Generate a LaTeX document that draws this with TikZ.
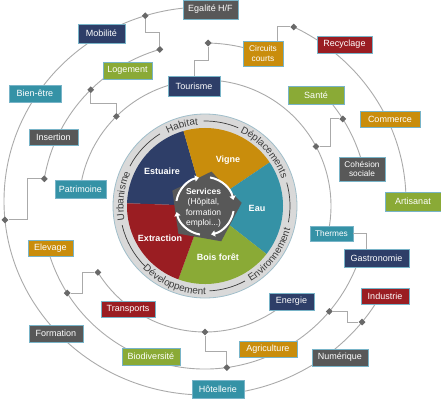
\documentclass[tikz,border=0pt]{standalone}
\usepackage{fontspec}
\setmainfont{Liberation Sans}
\usetikzlibrary{shapes.geometric,decorations.text,arrows.meta}

\definecolor{cnavy}{RGB}{46,62,104}
\definecolor{cgreen}{RGB}{138,170,54}
\definecolor{cteal}{RGB}{53,146,166}
\definecolor{cgrey}{RGB}{88,88,88}
\definecolor{corange}{RGB}{201,141,12}
\definecolor{cred}{RGB}{154,29,34}
\definecolor{cline}{RGB}{170,170,170}
\definecolor{cknot}{RGB}{105,105,105}
\definecolor{cedge}{RGB}{120,180,200}
\definecolor{cring}{RGB}{217,217,217}
\definecolor{cringedge}{RGB}{160,190,202}
\definecolor{ctxt}{RGB}{60,60,60}

\tikzset{
	box/.style={draw=cedge, line width=0.7pt, text=white, inner sep=1pt, minimum width=#1, minimum height=17pt, font=\fontsize{9}{10.5}\selectfont, align=center},
	bnavy/.style={box=#1, fill=cnavy},
	bgreen/.style={box=#1, fill=cgreen},
	bteal/.style={box=#1, fill=cteal},
	bgrey/.style={box=#1, fill=cgrey},
	borange/.style={box=#1, fill=corange},
	bred/.style={box=#1, fill=cred},
	small/.style={font=\fontsize{8.3}{9.5}\selectfont},
	knot/.style={diamond, fill=cknot, minimum width=7pt, minimum height=7pt, inner sep=0pt},
	orbit/.style={cline, line width=0.9pt},
	link/.style={cline, line width=0.9pt},
	slab/.style={text=white, font=\bfseries\fontsize{9}{10}\selectfont},
	rdash/.style={ctxt, line width=0.7pt},
	rtext/.style={decorate, decoration={text along path, text={|\fontsize{10}{10}\selectfont|#1}, text align=center, text color=ctxt}},
}

\begin{document}
\begin{tikzpicture}[x=1pt, y=1pt]
	\useasboundingbox (-205,-194) rectangle (236,206);

	\fill[cring] (0,0) circle (92);
	\draw[cringedge, line width=0.8pt] (0,0) circle (92);
	\foreach \a/\b/\c in {106/178/cnavy, 34/106/corange, -38/34/cteal, -110/-38/cgreen, 178/250/cred}
		\fill[\c] (0,0) -- (\a:78) arc[start angle=\a, end angle=\b, radius=78] -- cycle;
	\fill[cgrey, shift={(0,-2)}] (80:37) -- (8:37) -- (-64:37) -- (-136:37) -- (152:37) -- cycle;
	\foreach \a in {170,80,-10,-100}
		\draw[white, line width=2pt, -{Triangle[length=4pt,width=6pt]}] (\a:29) arc[start angle=\a, end angle=\a-68, radius=29];

	\foreach \a/\b in {152/122, 91/67, 16/-11, -62/-87, 193/225}
		\draw[rdash] (\a:85) arc[start angle=\a, end angle=\b, radius=85];
	\path[rtext={Habitat}] (121:81.5) arc[start angle=121, end angle=91, radius=81.5];
	\path[rtext={Déplacements}] (68:81.5) arc[start angle=68, end angle=16, radius=81.5];
	\path[rtext={Urbanisme}] (195:81.5) arc[start angle=195, end angle=151, radius=81.5];
	\path[rtext={Environnement}] (-64:88.5) arc[start angle=-64, end angle=-10, radius=88.5];
	\path[rtext={Développement}] (-140:88.5) arc[start angle=-140, end angle=-84, radius=88.5];

	\node[slab] (estu) at (-43,35) {Estuaire};
	\node[slab] (vigne) at (23,46) {Vigne};
	\node[slab] (eau) at (52,-2) {Eau};
	\node[slab] (bois) at (13,-51) {Bois forêt};
	\node[slab] (extr) at (-45,-32) {Extraction};
	\node[align=center, text=white, font=\fontsize{8.5}{10.5}\selectfont] (serv) at (-1.5,-2) {\textbf{Services}\\(Hôpital,\\formation\\emploi...)};

	\draw[orbit] (170:126) arc[start angle=170, end angle=-12, radius=126];
	\draw[orbit] (211.8:126) arc[start angle=211.8, end angle=315, radius=126];
	\draw[orbit] (106.1:163) arc[start angle=106.1, end angle=170.4, radius=163];
	\draw[orbit] (88.9:163) arc[start angle=88.9, end angle=67, radius=163];
	\draw[orbit] (44:163) arc[start angle=44, end angle=13, radius=163];
	\draw[orbit] (196:163) arc[start angle=196, end angle=342, radius=163];
	\draw[orbit] (0,5) ++(88:201 and 194) arc[start angle=88, end angle=331, x radius=201, y radius=194];
	\draw[orbit] (0,5) ++(63.8:201 and 194) arc[start angle=63.8, end angle=0, x radius=201, y radius=194];

	\path (0,5) ++(107.3:201 and 194) node[knot] (d1) {};
	\node[knot] (d2) at (106.1:163) {};
	\node[knot] (d3) at (88.9:163) {};
	\path (0,5) ++(63.8:201 and 194) node[knot] (d4) {};
	\node[knot] (d5) at (134.5:163) {};
	\node[knot] (d6) at (134.7:126) {};
	\node[knot] (d7) at (32.3:163) {};
	\node[knot] (d8) at (28.2:126) {};
	\node[knot] (d9) at (170.4:163) {};
	\path (0,5) ++(185.6:201 and 194) node[knot] (d10) {};
	\node[knot] (d11) at (211.8:126) {};
	\node[knot] (d12) at (212.3:163) {};
	\node[knot] (d13) at (270:126) {};
	\node[knot] (d14) at (277.7:163) {};
	\node[knot] (d15) at (319.7:163) {};
	\path (0,5) ++(321.4:201 and 194) node[knot] (d16) {};

	\node[bgrey=55pt, minimum height=19pt] (egal) at (5.5,196.5) {Egalité H/F};
	\node[bnavy=47pt, minimum height=19pt] (mob) at (-103.5,172.5) {Mobilité};
	\node[bgreen=49pt] (loge) at (-77.5,135.5) {Logement};
	\node[bteal=52pt] (bien) at (-170,112.5) {Bien-être};
	\node[bnavy=52pt, minimum height=20pt] (tour) at (-11,120) {Tourisme};
	\node[bgrey=49pt, minimum height=16pt] (inser) at (-151.5,69) {Insertion};
	\node[bteal=51pt, minimum height=18pt] (patri) at (-124.5,17) {Patrimoine};
	\node[borange=40pt, minimum height=25pt, small] (circ) at (58,152.5) {Circuits\\courts};
	\node[bred=55pt] (recy) at (139.5,161.5) {Recyclage};
	\node[bgreen=56pt, minimum height=18pt] (sante) at (111,111) {Santé};
	\node[borange=60pt, minimum height=16pt] (comm) at (185,87) {Commerce};
	\node[bgrey=46pt, minimum height=24pt, small] (cohes) at (157,37) {Cohésion\\sociale};
	\node[bgreen=56pt, minimum height=19pt] (arti) at (208,4.5) {Artisanat};
	\node[bteal=43pt, minimum height=15pt, small] (therm) at (126.5,-27.5) {Thermes};
	\node[bnavy=65pt, minimum height=18pt] (gast) at (171.5,-52) {Gastronomie};
	\node[bnavy=45pt] (ener) at (86.5,-95.5) {Energie};
	\node[bred=48pt, minimum height=16pt] (indu) at (180,-90) {Industrie};
	\node[borange=58pt, minimum height=16pt] (agri) at (63,-143) {Agriculture};
	\node[bgrey=56pt] (numer) at (135,-151.5) {Numérique};
	\node[bteal=52pt, minimum height=18pt] (hotel) at (13,-183) {Hôtellerie};
	\node[borange=45pt, minimum height=16pt] (elev) at (-154.5,-42) {Elevage};
	\node[bred=54pt, minimum height=16pt] (trans) at (-77,-103) {Transports};
	\node[bgrey=54pt] (form) at (-149,-127.5) {Formation};
	\node[bgreen=58pt] (biodi) at (-54,-150.5) {Biodiversité};

	\draw[link] (d1) -- ++(0,-17) -| (d2);
	\draw[link] (d3) -- ++(0,-17) -| (tour.north);
	\draw[link] ([xshift=14pt]circ.north) |- (d4);
	\draw[link] (d5) -- ++(0,-14) -| (d6);
	\draw[link] (d7) -- ++(-12,0) |- (d8);
	\draw[link] (d9) -- ++(-17,0) |- (d10);
	\draw[link] (d11) -- ++(-15,0) |- (d12);
	\draw[link] (d13) -- ++(0,-19) -| (d14);
	\draw[link] (d15) -- ++(18,0) |- (d16);
	\draw[link] (therm.east) -| ([xshift=-10pt]gast.north);
\end{tikzpicture}
\end{document}
